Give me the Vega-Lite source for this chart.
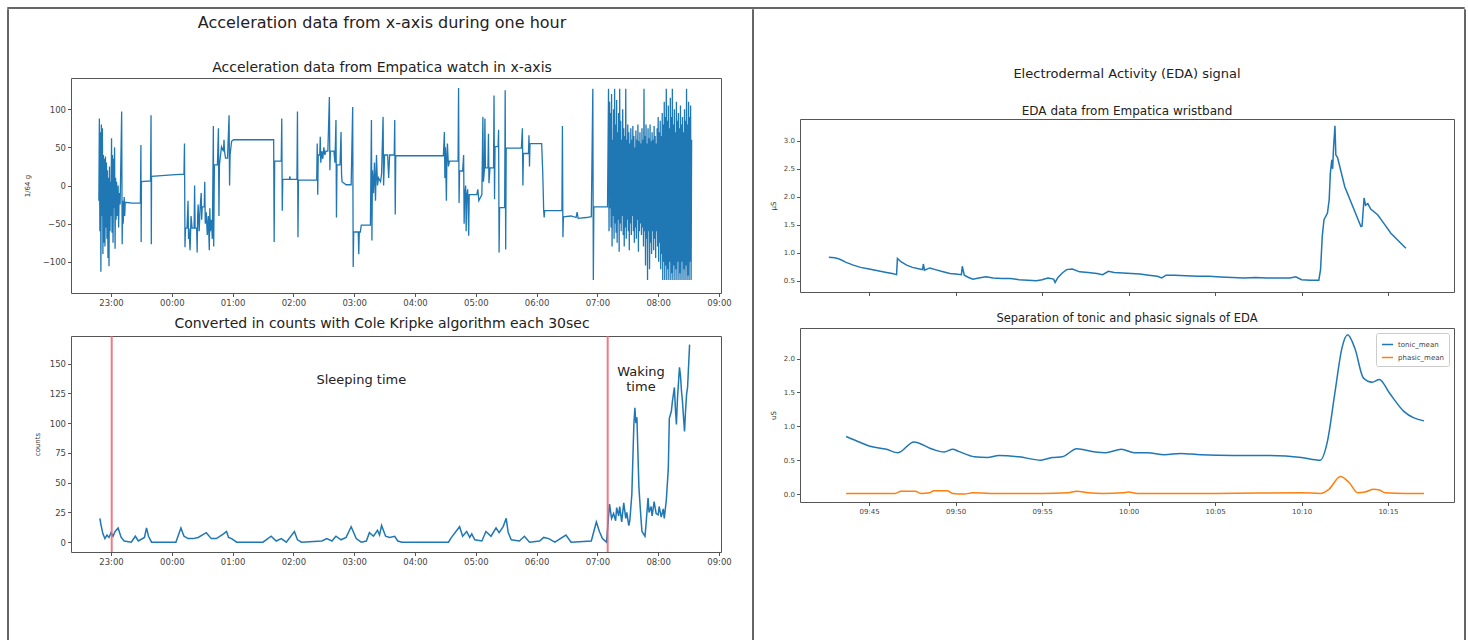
{
  "$schema": "https://vega.github.io/schema/vega-lite/v6.json",
  "padding": {"left": 7, "top": 7, "right": 0, "bottom": 0},
  "background": "white",
  "config": {
    "font": "DejaVu Sans",
    "view": {"stroke": "#555", "strokeWidth": 1},
    "axis": {"grid": false, "domain": false, "tickColor": "#555", "labelColor": "#444", "titleColor": "#333", "titleFontWeight": "normal", "tickSize": 3.5, "labelPadding": 2},
    "title": {"fontWeight": "normal", "color": "#222", "subtitleColor": "#222", "subtitleFont": "DejaVu Sans"}
  },
  "datasets": {
    "acc": [
      {"t": "1 22:48:00", "v": -20}, {"t": "1 22:48:30", "v": 88}, {"t": "1 22:49:00", "v": -60}, {"t": "1 22:49:30", "v": 70},
      {"t": "1 22:50:00", "v": -113}, {"t": "1 22:50:30", "v": 80}, {"t": "1 22:51:00", "v": -40}, {"t": "1 22:51:30", "v": 75},
      {"t": "1 22:52:00", "v": -90}, {"t": "1 22:52:30", "v": 40}, {"t": "1 22:53:00", "v": -75}, {"t": "1 22:53:30", "v": 35},
      {"t": "1 22:54:00", "v": -80}, {"t": "1 22:54:30", "v": 38}, {"t": "1 22:55:00", "v": -55}, {"t": "1 22:55:30", "v": 30},
      {"t": "1 22:56:00", "v": -70}, {"t": "1 22:56:30", "v": 20}, {"t": "1 22:57:00", "v": -95}, {"t": "1 22:57:30", "v": 10},
      {"t": "1 22:58:00", "v": -106}, {"t": "1 22:58:30", "v": 25}, {"t": "1 22:59:00", "v": -60}, {"t": "1 22:59:30", "v": 5},
      {"t": "1 23:00:00", "v": -40}, {"t": "1 23:00:30", "v": 62}, {"t": "1 23:01:00", "v": -62}, {"t": "1 23:01:30", "v": 40},
      {"t": "1 23:02:00", "v": -75}, {"t": "1 23:02:30", "v": 35}, {"t": "1 23:03:00", "v": -30}, {"t": "1 23:03:30", "v": 50},
      {"t": "1 23:04:00", "v": -83}, {"t": "1 23:04:30", "v": 10}, {"t": "1 23:05:00", "v": -45}, {"t": "1 23:05:30", "v": 5},
      {"t": "1 23:06:00", "v": -40}, {"t": "1 23:07:00", "v": 0}, {"t": "1 23:07:30", "v": -55}, {"t": "1 23:08:00", "v": -10},
      {"t": "1 23:09:00", "v": -25}, {"t": "1 23:10:30", "v": 97}, {"t": "1 23:11:00", "v": -77}, {"t": "1 23:11:30", "v": -20},
      {"t": "1 23:12:00", "v": -50}, {"t": "1 23:13:00", "v": -15}, {"t": "1 23:13:30", "v": -40}, {"t": "1 23:14:00", "v": -22},
      {"t": "1 23:21:00", "v": -23}, {"t": "1 23:29:00", "v": -23}, {"t": "1 23:29:30", "v": 53}, {"t": "1 23:29:45", "v": -74},
      {"t": "1 23:30:00", "v": 5}, {"t": "1 23:39:00", "v": 6}, {"t": "1 23:39:30", "v": 92}, {"t": "1 23:39:45", "v": -77},
      {"t": "1 23:40:00", "v": 12}, {"t": "1 23:50:00", "v": 13}, {"t": "2 00:00:00", "v": 14}, {"t": "2 00:12:00", "v": 15},
      {"t": "2 00:12:30", "v": 55}, {"t": "2 00:13:00", "v": -81}, {"t": "2 00:13:30", "v": -56}, {"t": "2 00:15:00", "v": -56},
      {"t": "2 00:16:00", "v": -20}, {"t": "2 00:16:30", "v": -70}, {"t": "2 00:17:00", "v": -56}, {"t": "2 00:18:00", "v": -85},
      {"t": "2 00:19:00", "v": -40}, {"t": "2 00:20:00", "v": -56}, {"t": "2 00:22:00", "v": -56}, {"t": "2 00:22:30", "v": 0},
      {"t": "2 00:23:00", "v": -56}, {"t": "2 00:24:30", "v": -56}, {"t": "2 00:25:00", "v": -88}, {"t": "2 00:25:30", "v": -40},
      {"t": "2 00:26:00", "v": -25}, {"t": "2 00:27:00", "v": -60}, {"t": "2 00:28:00", "v": -28}, {"t": "2 00:29:00", "v": -10},
      {"t": "2 00:29:30", "v": -45}, {"t": "2 00:30:00", "v": -28}, {"t": "2 00:32:00", "v": -28}, {"t": "2 00:32:30", "v": 5},
      {"t": "2 00:33:00", "v": -50}, {"t": "2 00:34:00", "v": -35}, {"t": "2 00:35:00", "v": -65}, {"t": "2 00:36:00", "v": -40},
      {"t": "2 00:37:00", "v": -85}, {"t": "2 00:37:30", "v": -30}, {"t": "2 00:38:00", "v": -60}, {"t": "2 00:39:00", "v": -45},
      {"t": "2 00:40:00", "v": -70}, {"t": "2 00:41:00", "v": 78}, {"t": "2 00:41:20", "v": -80}, {"t": "2 00:42:00", "v": 27},
      {"t": "2 00:45:00", "v": 27}, {"t": "2 00:46:00", "v": 75}, {"t": "2 00:46:30", "v": -40}, {"t": "2 00:47:00", "v": 27},
      {"t": "2 00:49:00", "v": 51}, {"t": "2 00:51:00", "v": 45}, {"t": "2 00:51:30", "v": 60}, {"t": "2 00:52:00", "v": 45},
      {"t": "2 00:53:00", "v": 36}, {"t": "2 00:55:00", "v": 36}, {"t": "2 00:56:30", "v": 92}, {"t": "2 00:57:00", "v": 0},
      {"t": "2 00:57:30", "v": 40}, {"t": "2 00:59:00", "v": 58}, {"t": "2 01:01:00", "v": 60}, {"t": "2 01:40:30", "v": 60},
      {"t": "2 01:41:00", "v": -74}, {"t": "2 01:41:30", "v": 32}, {"t": "2 01:48:00", "v": 32}, {"t": "2 01:48:30", "v": 88},
      {"t": "2 01:49:00", "v": -33}, {"t": "2 01:49:30", "v": 8}, {"t": "2 01:56:00", "v": 8}, {"t": "2 01:56:30", "v": 12},
      {"t": "2 01:57:00", "v": 8}, {"t": "2 02:03:30", "v": 8}, {"t": "2 02:04:00", "v": 97}, {"t": "2 02:04:30", "v": -68},
      {"t": "2 02:05:00", "v": 7}, {"t": "2 02:23:00", "v": 7}, {"t": "2 02:23:30", "v": 55}, {"t": "2 02:24:00", "v": -12},
      {"t": "2 02:24:30", "v": 40}, {"t": "2 02:26:00", "v": 40}, {"t": "2 02:26:30", "v": 64}, {"t": "2 02:27:00", "v": 30},
      {"t": "2 02:28:00", "v": 45}, {"t": "2 02:29:00", "v": 35}, {"t": "2 02:30:00", "v": 50}, {"t": "2 02:31:00", "v": 40},
      {"t": "2 02:32:00", "v": 45}, {"t": "2 02:34:00", "v": 45}, {"t": "2 02:35:30", "v": 116}, {"t": "2 02:36:00", "v": 20},
      {"t": "2 02:36:30", "v": 45}, {"t": "2 02:40:00", "v": 45}, {"t": "2 02:41:00", "v": 30}, {"t": "2 02:42:00", "v": 86},
      {"t": "2 02:42:30", "v": -42}, {"t": "2 02:43:00", "v": 27}, {"t": "2 02:46:00", "v": 27}, {"t": "2 02:47:00", "v": 70},
      {"t": "2 02:47:30", "v": 15}, {"t": "2 02:48:00", "v": 5}, {"t": "2 02:52:00", "v": 1}, {"t": "2 02:57:00", "v": 1},
      {"t": "2 02:58:30", "v": 103}, {"t": "2 02:59:00", "v": -107}, {"t": "2 02:59:30", "v": -61}, {"t": "2 03:04:00", "v": -61},
      {"t": "2 03:04:30", "v": -90}, {"t": "2 03:05:00", "v": -61}, {"t": "2 03:06:00", "v": -61}, {"t": "2 03:07:00", "v": -52},
      {"t": "2 03:16:00", "v": -52}, {"t": "2 03:17:00", "v": 86}, {"t": "2 03:17:30", "v": -72}, {"t": "2 03:18:00", "v": 20},
      {"t": "2 03:19:00", "v": -10}, {"t": "2 03:20:00", "v": 30}, {"t": "2 03:21:00", "v": -20}, {"t": "2 03:22:00", "v": 40},
      {"t": "2 03:23:00", "v": 0}, {"t": "2 03:24:00", "v": 10}, {"t": "2 03:26:00", "v": 5}, {"t": "2 03:27:00", "v": 15},
      {"t": "2 03:28:30", "v": 90}, {"t": "2 03:29:00", "v": 0}, {"t": "2 03:30:00", "v": 40}, {"t": "2 03:33:00", "v": 40},
      {"t": "2 03:34:00", "v": 10}, {"t": "2 03:35:00", "v": 40}, {"t": "2 03:39:30", "v": 40}, {"t": "2 03:40:00", "v": 86},
      {"t": "2 03:40:30", "v": -38}, {"t": "2 03:41:00", "v": 39}, {"t": "2 04:28:00", "v": 39}, {"t": "2 04:29:00", "v": 70},
      {"t": "2 04:29:30", "v": 10}, {"t": "2 04:30:00", "v": 50}, {"t": "2 04:31:00", "v": -20}, {"t": "2 04:31:30", "v": 40},
      {"t": "2 04:32:00", "v": 55}, {"t": "2 04:33:00", "v": 25}, {"t": "2 04:34:00", "v": 32}, {"t": "2 04:42:30", "v": 32},
      {"t": "2 04:43:00", "v": 128}, {"t": "2 04:43:30", "v": -23}, {"t": "2 04:44:00", "v": 19}, {"t": "2 04:47:00", "v": 19},
      {"t": "2 04:48:00", "v": 40}, {"t": "2 04:48:30", "v": -50}, {"t": "2 04:49:00", "v": -14}, {"t": "2 04:50:00", "v": 0},
      {"t": "2 04:50:30", "v": -60}, {"t": "2 04:51:00", "v": -14}, {"t": "2 04:52:00", "v": -5}, {"t": "2 04:53:00", "v": -66},
      {"t": "2 04:53:30", "v": -12}, {"t": "2 05:01:00", "v": -12}, {"t": "2 05:02:00", "v": -5}, {"t": "2 05:03:00", "v": -20},
      {"t": "2 05:06:00", "v": -12}, {"t": "2 05:07:00", "v": 90}, {"t": "2 05:07:30", "v": 5}, {"t": "2 05:08:30", "v": 20},
      {"t": "2 05:09:00", "v": 88}, {"t": "2 05:09:30", "v": 23}, {"t": "2 05:12:00", "v": 23}, {"t": "2 05:12:30", "v": 68},
      {"t": "2 05:13:00", "v": 3}, {"t": "2 05:14:00", "v": 23}, {"t": "2 05:17:30", "v": 23}, {"t": "2 05:18:00", "v": 118},
      {"t": "2 05:18:30", "v": -18}, {"t": "2 05:19:00", "v": 51}, {"t": "2 05:22:00", "v": 51}, {"t": "2 05:22:30", "v": 73},
      {"t": "2 05:23:00", "v": -88}, {"t": "2 05:23:30", "v": -29}, {"t": "2 05:28:30", "v": -29}, {"t": "2 05:29:00", "v": 125},
      {"t": "2 05:29:30", "v": -84}, {"t": "2 05:30:00", "v": 49}, {"t": "2 05:45:00", "v": 49}, {"t": "2 05:46:00", "v": 75},
      {"t": "2 05:46:30", "v": 0}, {"t": "2 05:47:00", "v": 42}, {"t": "2 05:52:00", "v": 42}, {"t": "2 05:52:30", "v": 66},
      {"t": "2 05:53:00", "v": 25}, {"t": "2 05:53:30", "v": 55}, {"t": "2 06:05:00", "v": 55}, {"t": "2 06:06:00", "v": 20},
      {"t": "2 06:06:30", "v": -5}, {"t": "2 06:07:00", "v": -33}, {"t": "2 06:07:30", "v": -42}, {"t": "2 06:08:00", "v": -33},
      {"t": "2 06:25:00", "v": -33}, {"t": "2 06:25:30", "v": 78}, {"t": "2 06:26:00", "v": -68}, {"t": "2 06:26:30", "v": -41},
      {"t": "2 06:34:00", "v": -40}, {"t": "2 06:39:00", "v": -42}, {"t": "2 06:40:00", "v": -35}, {"t": "2 06:41:00", "v": -43},
      {"t": "2 06:49:00", "v": -42}, {"t": "2 06:54:00", "v": -41}, {"t": "2 06:55:30", "v": 127}, {"t": "2 06:56:00", "v": -124},
      {"t": "2 06:56:30", "v": -28}, {"t": "2 07:10:00", "v": -28},
      {"t": "2 07:11:00", "v": 127}, {"t": "2 07:11:30", "v": -60}, {"t": "2 07:12:00", "v": 110}, {"t": "2 07:12:30", "v": -30},
      {"t": "2 07:13:00", "v": 95}, {"t": "2 07:13:30", "v": -55}, {"t": "2 07:14:00", "v": 120}, {"t": "2 07:14:30", "v": -80},
      {"t": "2 07:15:00", "v": 60}, {"t": "2 07:15:30", "v": -40}, {"t": "2 07:16:00", "v": 100}, {"t": "2 07:16:30", "v": -70},
      {"t": "2 07:17:00", "v": 127}, {"t": "2 07:17:30", "v": -50}, {"t": "2 07:18:00", "v": 80}, {"t": "2 07:18:30", "v": -62},
      {"t": "2 07:19:00", "v": 112}, {"t": "2 07:19:30", "v": -75}, {"t": "2 07:20:00", "v": 70}, {"t": "2 07:20:30", "v": -45},
      {"t": "2 07:21:00", "v": 95}, {"t": "2 07:21:30", "v": -87}, {"t": "2 07:22:00", "v": 127}, {"t": "2 07:22:30", "v": -50},
      {"t": "2 07:23:00", "v": 85}, {"t": "2 07:23:30", "v": -60}, {"t": "2 07:24:00", "v": 60}, {"t": "2 07:24:30", "v": -40},
      {"t": "2 07:25:00", "v": 100}, {"t": "2 07:25:30", "v": -65}, {"t": "2 07:26:00", "v": 75}, {"t": "2 07:26:30", "v": -80},
      {"t": "2 07:27:00", "v": 65}, {"t": "2 07:27:30", "v": -55}, {"t": "2 07:28:00", "v": 127}, {"t": "2 07:28:30", "v": -70},
      {"t": "2 07:29:00", "v": 60}, {"t": "2 07:29:30", "v": -45}, {"t": "2 07:30:00", "v": 80}, {"t": "2 07:30:30", "v": -60},
      {"t": "2 07:31:00", "v": 70}, {"t": "2 07:31:30", "v": -85}, {"t": "2 07:32:00", "v": 55}, {"t": "2 07:32:30", "v": -50},
      {"t": "2 07:33:00", "v": 75}, {"t": "2 07:33:30", "v": -65}, {"t": "2 07:34:00", "v": 60}, {"t": "2 07:34:30", "v": -40},
      {"t": "2 07:35:00", "v": 78}, {"t": "2 07:35:30", "v": -60}, {"t": "2 07:36:00", "v": 65}, {"t": "2 07:36:30", "v": -75},
      {"t": "2 07:37:00", "v": 50}, {"t": "2 07:37:30", "v": -55}, {"t": "2 07:38:00", "v": 72}, {"t": "2 07:38:30", "v": -70},
      {"t": "2 07:39:00", "v": 60}, {"t": "2 07:39:30", "v": -45}, {"t": "2 07:40:00", "v": 80}, {"t": "2 07:40:30", "v": -87},
      {"t": "2 07:41:00", "v": 58}, {"t": "2 07:41:30", "v": -60}, {"t": "2 07:42:00", "v": 70}, {"t": "2 07:42:30", "v": -50},
      {"t": "2 07:43:00", "v": 55}, {"t": "2 07:43:30", "v": -65}, {"t": "2 07:44:00", "v": 75}, {"t": "2 07:44:30", "v": -55},
      {"t": "2 07:45:00", "v": 60}, {"t": "2 07:45:30", "v": -80}, {"t": "2 07:46:00", "v": 127}, {"t": "2 07:46:30", "v": -60},
      {"t": "2 07:47:00", "v": 65}, {"t": "2 07:47:30", "v": -105}, {"t": "2 07:48:00", "v": 80}, {"t": "2 07:48:30", "v": -70},
      {"t": "2 07:49:00", "v": 55}, {"t": "2 07:49:30", "v": -124}, {"t": "2 07:50:00", "v": 75}, {"t": "2 07:50:30", "v": -60},
      {"t": "2 07:51:00", "v": 62}, {"t": "2 07:51:30", "v": -110}, {"t": "2 07:52:00", "v": 80}, {"t": "2 07:52:30", "v": -75},
      {"t": "2 07:53:00", "v": 58}, {"t": "2 07:53:30", "v": -90}, {"t": "2 07:54:00", "v": 70}, {"t": "2 07:54:30", "v": -60},
      {"t": "2 07:55:00", "v": 60}, {"t": "2 07:55:30", "v": -85}, {"t": "2 07:56:00", "v": 78}, {"t": "2 07:56:30", "v": -70},
      {"t": "2 07:57:00", "v": 65}, {"t": "2 07:57:30", "v": -95}, {"t": "2 07:58:00", "v": 55}, {"t": "2 07:58:30", "v": -60},
      {"t": "2 07:59:00", "v": 75}, {"t": "2 07:59:30", "v": -80}, {"t": "2 08:00:00", "v": 90}, {"t": "2 08:00:30", "v": -100},
      {"t": "2 08:01:00", "v": 70}, {"t": "2 08:01:30", "v": -75}, {"t": "2 08:02:00", "v": 85}, {"t": "2 08:02:30", "v": -110},
      {"t": "2 08:03:00", "v": 65}, {"t": "2 08:03:30", "v": -90}, {"t": "2 08:04:00", "v": 95}, {"t": "2 08:04:30", "v": -124},
      {"t": "2 08:05:00", "v": 80}, {"t": "2 08:05:30", "v": -100}, {"t": "2 08:06:00", "v": 110}, {"t": "2 08:06:30", "v": -124},
      {"t": "2 08:07:00", "v": 90}, {"t": "2 08:07:30", "v": -105}, {"t": "2 08:08:00", "v": 127}, {"t": "2 08:08:30", "v": -124},
      {"t": "2 08:09:00", "v": 85}, {"t": "2 08:09:30", "v": -110}, {"t": "2 08:10:00", "v": 105}, {"t": "2 08:10:30", "v": -124},
      {"t": "2 08:11:00", "v": 75}, {"t": "2 08:11:30", "v": -100}, {"t": "2 08:12:00", "v": 115}, {"t": "2 08:12:30", "v": -124},
      {"t": "2 08:13:00", "v": 90}, {"t": "2 08:13:30", "v": -115}, {"t": "2 08:14:00", "v": 127}, {"t": "2 08:14:30", "v": -124},
      {"t": "2 08:15:00", "v": 80}, {"t": "2 08:15:30", "v": -105}, {"t": "2 08:16:00", "v": 100}, {"t": "2 08:16:30", "v": -124},
      {"t": "2 08:17:00", "v": 70}, {"t": "2 08:17:30", "v": -110}, {"t": "2 08:18:00", "v": 110}, {"t": "2 08:18:30", "v": -124},
      {"t": "2 08:19:00", "v": 85}, {"t": "2 08:19:30", "v": -100}, {"t": "2 08:20:00", "v": 95}, {"t": "2 08:20:30", "v": -124},
      {"t": "2 08:21:00", "v": 75}, {"t": "2 08:21:30", "v": -115}, {"t": "2 08:22:00", "v": 105}, {"t": "2 08:22:30", "v": -124},
      {"t": "2 08:23:00", "v": 80}, {"t": "2 08:23:30", "v": -100}, {"t": "2 08:24:00", "v": 90}, {"t": "2 08:24:30", "v": -124},
      {"t": "2 08:25:00", "v": 70}, {"t": "2 08:25:30", "v": -110}, {"t": "2 08:26:00", "v": 100}, {"t": "2 08:26:30", "v": -124},
      {"t": "2 08:27:00", "v": 85}, {"t": "2 08:27:30", "v": -105}, {"t": "2 08:28:00", "v": 127}, {"t": "2 08:28:30", "v": -124},
      {"t": "2 08:29:00", "v": 80}, {"t": "2 08:29:30", "v": -118}, {"t": "2 08:30:00", "v": 110}, {"t": "2 08:30:30", "v": -124},
      {"t": "2 08:31:00", "v": 90}, {"t": "2 08:31:30", "v": -100}, {"t": "2 08:32:00", "v": 105}, {"t": "2 08:32:30", "v": -124},
      {"t": "2 08:33:00", "v": 60}
    ],
    "counts": [
      {"t": "1 22:49:00", "v": 20}, {"t": "1 22:50:00", "v": 15}, {"t": "1 22:52:00", "v": 7}, {"t": "1 22:54:00", "v": 3},
      {"t": "1 22:56:00", "v": 6}, {"t": "1 22:58:00", "v": 4}, {"t": "1 23:00:00", "v": 8}, {"t": "1 23:02:00", "v": 5},
      {"t": "1 23:04:00", "v": 9}, {"t": "1 23:07:00", "v": 12}, {"t": "1 23:10:00", "v": 4}, {"t": "1 23:13:00", "v": 1},
      {"t": "1 23:20:00", "v": 0}, {"t": "1 23:24:00", "v": 5}, {"t": "1 23:27:00", "v": 1}, {"t": "1 23:33:00", "v": 4},
      {"t": "1 23:35:00", "v": 12}, {"t": "1 23:37:00", "v": 5}, {"t": "1 23:40:00", "v": 0}, {"t": "2 00:04:00", "v": 0},
      {"t": "2 00:09:00", "v": 12}, {"t": "2 00:12:00", "v": 5}, {"t": "2 00:16:00", "v": 3}, {"t": "2 00:21:00", "v": 3},
      {"t": "2 00:26:00", "v": 4}, {"t": "2 00:34:00", "v": 8}, {"t": "2 00:39:00", "v": 3}, {"t": "2 00:44:00", "v": 3},
      {"t": "2 00:51:00", "v": 7}, {"t": "2 00:54:00", "v": 9}, {"t": "2 00:56:00", "v": 4}, {"t": "2 00:59:00", "v": 3},
      {"t": "2 01:04:00", "v": 0}, {"t": "2 01:30:00", "v": 0}, {"t": "2 01:38:00", "v": 5}, {"t": "2 01:43:00", "v": 1},
      {"t": "2 01:48:00", "v": 3}, {"t": "2 01:53:00", "v": 0}, {"t": "2 02:01:00", "v": 9}, {"t": "2 02:04:00", "v": 2},
      {"t": "2 02:08:00", "v": 0}, {"t": "2 02:28:00", "v": 1}, {"t": "2 02:33:00", "v": 3}, {"t": "2 02:38:00", "v": 1},
      {"t": "2 02:42:00", "v": 5}, {"t": "2 02:47:00", "v": 2}, {"t": "2 02:52:00", "v": 4}, {"t": "2 02:57:00", "v": 13},
      {"t": "2 03:02:00", "v": 3}, {"t": "2 03:07:00", "v": 0}, {"t": "2 03:12:00", "v": 1}, {"t": "2 03:15:00", "v": 8},
      {"t": "2 03:19:00", "v": 5}, {"t": "2 03:23:00", "v": 10}, {"t": "2 03:25:00", "v": 6}, {"t": "2 03:27:00", "v": 14},
      {"t": "2 03:31:00", "v": 5}, {"t": "2 03:35:00", "v": 4}, {"t": "2 03:40:00", "v": 5}, {"t": "2 03:43:00", "v": 1},
      {"t": "2 03:47:00", "v": 0}, {"t": "2 04:33:00", "v": 0}, {"t": "2 04:36:00", "v": 4}, {"t": "2 04:44:00", "v": 13},
      {"t": "2 04:47:00", "v": 5}, {"t": "2 04:51:00", "v": 9}, {"t": "2 04:54:00", "v": 4}, {"t": "2 04:56:00", "v": 7},
      {"t": "2 04:59:00", "v": 2}, {"t": "2 05:06:00", "v": 1}, {"t": "2 05:10:00", "v": 9}, {"t": "2 05:15:00", "v": 5},
      {"t": "2 05:20:00", "v": 12}, {"t": "2 05:23:00", "v": 8}, {"t": "2 05:27:00", "v": 13}, {"t": "2 05:30:00", "v": 20},
      {"t": "2 05:32:00", "v": 8}, {"t": "2 05:35:00", "v": 2}, {"t": "2 05:43:00", "v": 1}, {"t": "2 05:48:00", "v": 5},
      {"t": "2 05:53:00", "v": 0}, {"t": "2 06:03:00", "v": 1}, {"t": "2 06:07:00", "v": 4}, {"t": "2 06:12:00", "v": 3},
      {"t": "2 06:18:00", "v": 0}, {"t": "2 06:29:00", "v": 6}, {"t": "2 06:34:00", "v": 0}, {"t": "2 06:54:00", "v": 1},
      {"t": "2 06:59:00", "v": 17}, {"t": "2 07:02:00", "v": 9}, {"t": "2 07:05:00", "v": 3}, {"t": "2 07:09:00", "v": 0},
      {"t": "2 07:12:00", "v": 32}, {"t": "2 07:14:00", "v": 20}, {"t": "2 07:16:00", "v": 24}, {"t": "2 07:18:00", "v": 18},
      {"t": "2 07:19:00", "v": 29}, {"t": "2 07:21:00", "v": 22}, {"t": "2 07:22:00", "v": 30}, {"t": "2 07:24:00", "v": 17},
      {"t": "2 07:26:00", "v": 33}, {"t": "2 07:28:00", "v": 20}, {"t": "2 07:29:00", "v": 25}, {"t": "2 07:31:00", "v": 14},
      {"t": "2 07:32:00", "v": 18}, {"t": "2 07:34:00", "v": 40}, {"t": "2 07:36:00", "v": 99}, {"t": "2 07:37:00", "v": 113},
      {"t": "2 07:38:00", "v": 100}, {"t": "2 07:39:00", "v": 105}, {"t": "2 07:41:00", "v": 46}, {"t": "2 07:43:00", "v": 20},
      {"t": "2 07:44:00", "v": 9}, {"t": "2 07:47:00", "v": 5}, {"t": "2 07:48:00", "v": 15}, {"t": "2 07:50:00", "v": 37},
      {"t": "2 07:51:00", "v": 25}, {"t": "2 07:53:00", "v": 30}, {"t": "2 07:54:00", "v": 22}, {"t": "2 07:56:00", "v": 34},
      {"t": "2 07:58:00", "v": 24}, {"t": "2 08:00:00", "v": 23}, {"t": "2 08:01:00", "v": 30}, {"t": "2 08:03:00", "v": 21},
      {"t": "2 08:05:00", "v": 28}, {"t": "2 08:06:00", "v": 20}, {"t": "2 08:08:00", "v": 35}, {"t": "2 08:10:00", "v": 62},
      {"t": "2 08:11:00", "v": 104}, {"t": "2 08:13:00", "v": 110}, {"t": "2 08:14:00", "v": 118}, {"t": "2 08:16:00", "v": 130},
      {"t": "2 08:17:00", "v": 112}, {"t": "2 08:18:00", "v": 99}, {"t": "2 08:19:00", "v": 120}, {"t": "2 08:21:00", "v": 147},
      {"t": "2 08:22:00", "v": 140}, {"t": "2 08:23:00", "v": 127}, {"t": "2 08:24:00", "v": 118}, {"t": "2 08:25:00", "v": 105},
      {"t": "2 08:26:00", "v": 93}, {"t": "2 08:27:00", "v": 110}, {"t": "2 08:28:00", "v": 124}, {"t": "2 08:29:00", "v": 130},
      {"t": "2 08:31:00", "v": 166}
    ],
    "phases": [{"t": "1 23:00:40"}, {"t": "2 07:10:10"}],
    "notes": [
      {"t": "2 03:07:00", "v": 136, "label": "Sleeping time"},
      {"t": "2 07:43:00", "v": 143, "label": "Waking\ntime"}
    ],
    "eda": [
      {"t": "1 09:42:40", "v": 0.92}, {"t": "1 09:43:00", "v": 0.91}, {"t": "1 09:43:10", "v": 0.9}, {"t": "1 09:43:20", "v": 0.88},
      {"t": "1 09:43:40", "v": 0.83}, {"t": "1 09:44:05", "v": 0.78}, {"t": "1 09:44:30", "v": 0.74}, {"t": "1 09:45:00", "v": 0.71},
      {"t": "1 09:45:30", "v": 0.68}, {"t": "1 09:46:00", "v": 0.65}, {"t": "1 09:46:20", "v": 0.63}, {"t": "1 09:46:35", "v": 0.61},
      {"t": "1 09:46:38", "v": 0.9}, {"t": "1 09:46:50", "v": 0.84}, {"t": "1 09:47:10", "v": 0.78}, {"t": "1 09:47:30", "v": 0.74},
      {"t": "1 09:47:55", "v": 0.71}, {"t": "1 09:48:05", "v": 0.7}, {"t": "1 09:48:08", "v": 0.8}, {"t": "1 09:48:12", "v": 0.69},
      {"t": "1 09:48:30", "v": 0.73}, {"t": "1 09:48:50", "v": 0.7}, {"t": "1 09:49:10", "v": 0.67}, {"t": "1 09:49:40", "v": 0.63},
      {"t": "1 09:50:00", "v": 0.62}, {"t": "1 09:50:20", "v": 0.61}, {"t": "1 09:50:23", "v": 0.76}, {"t": "1 09:50:30", "v": 0.6},
      {"t": "1 09:50:45", "v": 0.56}, {"t": "1 09:51:00", "v": 0.53}, {"t": "1 09:51:20", "v": 0.55}, {"t": "1 09:51:45", "v": 0.57},
      {"t": "1 09:52:10", "v": 0.55}, {"t": "1 09:52:40", "v": 0.54}, {"t": "1 09:53:10", "v": 0.54}, {"t": "1 09:53:40", "v": 0.52},
      {"t": "1 09:54:10", "v": 0.51}, {"t": "1 09:54:40", "v": 0.5}, {"t": "1 09:55:00", "v": 0.52}, {"t": "1 09:55:20", "v": 0.55},
      {"t": "1 09:55:40", "v": 0.53}, {"t": "1 09:55:45", "v": 0.47}, {"t": "1 09:55:55", "v": 0.56}, {"t": "1 09:56:10", "v": 0.64},
      {"t": "1 09:56:25", "v": 0.7}, {"t": "1 09:56:45", "v": 0.71}, {"t": "1 09:57:10", "v": 0.66}, {"t": "1 09:57:40", "v": 0.65},
      {"t": "1 09:58:10", "v": 0.63}, {"t": "1 09:58:30", "v": 0.61}, {"t": "1 09:58:50", "v": 0.67}, {"t": "1 09:59:10", "v": 0.65},
      {"t": "1 09:59:40", "v": 0.64}, {"t": "1 10:00:10", "v": 0.63}, {"t": "1 10:00:40", "v": 0.62}, {"t": "1 10:01:10", "v": 0.6},
      {"t": "1 10:01:40", "v": 0.58}, {"t": "1 10:01:55", "v": 0.55}, {"t": "1 10:02:10", "v": 0.6}, {"t": "1 10:02:40", "v": 0.6},
      {"t": "1 10:03:20", "v": 0.59}, {"t": "1 10:04:00", "v": 0.58}, {"t": "1 10:04:40", "v": 0.58}, {"t": "1 10:05:20", "v": 0.57},
      {"t": "1 10:06:00", "v": 0.56}, {"t": "1 10:06:40", "v": 0.55}, {"t": "1 10:07:20", "v": 0.56}, {"t": "1 10:08:00", "v": 0.55},
      {"t": "1 10:08:40", "v": 0.55}, {"t": "1 10:09:20", "v": 0.55}, {"t": "1 10:09:40", "v": 0.57}, {"t": "1 10:10:00", "v": 0.52},
      {"t": "1 10:10:30", "v": 0.51}, {"t": "1 10:11:00", "v": 0.51}, {"t": "1 10:11:06", "v": 0.7}, {"t": "1 10:11:12", "v": 1.3},
      {"t": "1 10:11:18", "v": 1.59}, {"t": "1 10:11:30", "v": 1.71}, {"t": "1 10:11:36", "v": 1.95}, {"t": "1 10:11:40", "v": 2.42},
      {"t": "1 10:11:45", "v": 2.66}, {"t": "1 10:11:48", "v": 2.5}, {"t": "1 10:11:51", "v": 2.87}, {"t": "1 10:11:56", "v": 3.27},
      {"t": "1 10:11:59", "v": 2.75}, {"t": "1 10:12:05", "v": 2.7}, {"t": "1 10:12:30", "v": 2.18}, {"t": "1 10:13:00", "v": 1.8},
      {"t": "1 10:13:26", "v": 1.47}, {"t": "1 10:13:30", "v": 1.48}, {"t": "1 10:13:37", "v": 1.98}, {"t": "1 10:13:42", "v": 1.85},
      {"t": "1 10:13:50", "v": 1.88}, {"t": "1 10:14:00", "v": 1.78}, {"t": "1 10:14:24", "v": 1.68}, {"t": "1 10:14:45", "v": 1.53},
      {"t": "1 10:15:10", "v": 1.35}, {"t": "1 10:15:35", "v": 1.22}, {"t": "1 10:16:02", "v": 1.08}
    ],
    "separation": [
      {"t": "1 09:43:40", "s": "tonic_mean", "v": 0.85}, {"t": "1 09:44:30", "s": "tonic_mean", "v": 0.76},
      {"t": "1 09:45:00", "s": "tonic_mean", "v": 0.71}, {"t": "1 09:46:00", "s": "tonic_mean", "v": 0.66},
      {"t": "1 09:46:40", "s": "tonic_mean", "v": 0.61}, {"t": "1 09:47:35", "s": "tonic_mean", "v": 0.77},
      {"t": "1 09:48:40", "s": "tonic_mean", "v": 0.66}, {"t": "1 09:49:20", "s": "tonic_mean", "v": 0.62},
      {"t": "1 09:49:50", "s": "tonic_mean", "v": 0.66}, {"t": "1 09:50:10", "s": "tonic_mean", "v": 0.63},
      {"t": "1 09:51:05", "s": "tonic_mean", "v": 0.55}, {"t": "1 09:51:50", "s": "tonic_mean", "v": 0.54},
      {"t": "1 09:52:30", "s": "tonic_mean", "v": 0.57}, {"t": "1 09:53:40", "s": "tonic_mean", "v": 0.55},
      {"t": "1 09:54:55", "s": "tonic_mean", "v": 0.5}, {"t": "1 09:55:35", "s": "tonic_mean", "v": 0.54},
      {"t": "1 09:56:10", "s": "tonic_mean", "v": 0.55}, {"t": "1 09:57:00", "s": "tonic_mean", "v": 0.67},
      {"t": "1 09:58:05", "s": "tonic_mean", "v": 0.62}, {"t": "1 09:58:40", "s": "tonic_mean", "v": 0.61},
      {"t": "1 09:59:35", "s": "tonic_mean", "v": 0.66}, {"t": "1 10:00:20", "s": "tonic_mean", "v": 0.61},
      {"t": "1 10:01:05", "s": "tonic_mean", "v": 0.61}, {"t": "1 10:02:05", "s": "tonic_mean", "v": 0.58},
      {"t": "1 10:03:00", "s": "tonic_mean", "v": 0.6}, {"t": "1 10:04:10", "s": "tonic_mean", "v": 0.58},
      {"t": "1 10:06:05", "s": "tonic_mean", "v": 0.57}, {"t": "1 10:08:00", "s": "tonic_mean", "v": 0.57},
      {"t": "1 10:10:00", "s": "tonic_mean", "v": 0.54}, {"t": "1 10:11:05", "s": "tonic_mean", "v": 0.5},
      {"t": "1 10:11:30", "s": "tonic_mean", "v": 0.78}, {"t": "1 10:11:55", "s": "tonic_mean", "v": 1.47},
      {"t": "1 10:12:20", "s": "tonic_mean", "v": 2.15}, {"t": "1 10:12:40", "s": "tonic_mean", "v": 2.35},
      {"t": "1 10:13:05", "s": "tonic_mean", "v": 2.15}, {"t": "1 10:13:35", "s": "tonic_mean", "v": 1.71},
      {"t": "1 10:14:05", "s": "tonic_mean", "v": 1.65}, {"t": "1 10:14:30", "s": "tonic_mean", "v": 1.69},
      {"t": "1 10:15:05", "s": "tonic_mean", "v": 1.49}, {"t": "1 10:15:55", "s": "tonic_mean", "v": 1.22},
      {"t": "1 10:17:05", "s": "tonic_mean", "v": 1.08},
      {"t": "1 09:43:40", "s": "phasic_mean", "v": 0.01}, {"t": "1 09:46:30", "s": "phasic_mean", "v": 0.01},
      {"t": "1 09:46:50", "s": "phasic_mean", "v": 0.04}, {"t": "1 09:47:40", "s": "phasic_mean", "v": 0.04},
      {"t": "1 09:48:00", "s": "phasic_mean", "v": 0.01}, {"t": "1 09:48:30", "s": "phasic_mean", "v": 0.02},
      {"t": "1 09:48:45", "s": "phasic_mean", "v": 0.05}, {"t": "1 09:49:30", "s": "phasic_mean", "v": 0.05},
      {"t": "1 09:49:50", "s": "phasic_mean", "v": 0.01}, {"t": "1 09:50:30", "s": "phasic_mean", "v": 0.0},
      {"t": "1 09:51:00", "s": "phasic_mean", "v": 0.02}, {"t": "1 09:52:00", "s": "phasic_mean", "v": 0.01},
      {"t": "1 09:55:00", "s": "phasic_mean", "v": 0.01}, {"t": "1 09:56:30", "s": "phasic_mean", "v": 0.02},
      {"t": "1 09:57:00", "s": "phasic_mean", "v": 0.04}, {"t": "1 09:57:40", "s": "phasic_mean", "v": 0.02},
      {"t": "1 09:58:30", "s": "phasic_mean", "v": 0.01}, {"t": "1 09:59:40", "s": "phasic_mean", "v": 0.02},
      {"t": "1 10:00:00", "s": "phasic_mean", "v": 0.03}, {"t": "1 10:00:30", "s": "phasic_mean", "v": 0.01},
      {"t": "1 10:05:00", "s": "phasic_mean", "v": 0.01}, {"t": "1 10:10:00", "s": "phasic_mean", "v": 0.02},
      {"t": "1 10:11:05", "s": "phasic_mean", "v": 0.01}, {"t": "1 10:11:35", "s": "phasic_mean", "v": 0.07},
      {"t": "1 10:12:15", "s": "phasic_mean", "v": 0.26}, {"t": "1 10:12:45", "s": "phasic_mean", "v": 0.17},
      {"t": "1 10:13:15", "s": "phasic_mean", "v": 0.02}, {"t": "1 10:13:40", "s": "phasic_mean", "v": 0.03},
      {"t": "1 10:14:10", "s": "phasic_mean", "v": 0.07}, {"t": "1 10:14:30", "s": "phasic_mean", "v": 0.06},
      {"t": "1 10:14:50", "s": "phasic_mean", "v": 0.02}, {"t": "1 10:16:00", "s": "phasic_mean", "v": 0.01},
      {"t": "1 10:17:05", "s": "phasic_mean", "v": 0.01}
    ],
    "blank": []
  },
  "spacing": 0,
  "resolve": {"legend": {"color": "independent"}},
  "vconcat": [
    {"width": 1456, "height": 0.01, "view": {"stroke": "#333", "strokeWidth": 1.5}, "data": {"name": "blank"}, "mark": "point"},
    {
      "spacing": 13,
      "resolve": {"legend": {"color": "independent"}},
      "hconcat": [
        {"width": 0.01, "height": 630, "view": {"stroke": "#333", "strokeWidth": 1.5}, "data": {"name": "blank"}, "mark": "point"},
        {
          "spacing": 20,
          "resolve": {"legend": {"color": "independent"}},
          "hconcat": [
            {
              "spacing": 3,
              "vconcat": [
                {"width": 650, "height": 0.01, "view": {"stroke": null}, "data": {"name": "blank"}, "mark": "point"},
                {
                  "spacing": 8,
                  "vconcat": [
                    {
                      "width": 650,
                      "height": 215,
                      "title": {"text": "Acceleration data from x-axis during one hour", "fontSize": 16, "subtitle": "Acceleration data from Empatica watch in x-axis", "subtitleFontSize": 14, "subtitlePadding": 30, "offset": 3, "dx": -14},
                      "data": {"name": "acc", "format": {"parse": {"t": "date:'%d %H:%M:%S'"}}},
                      "mark": {"type": "line", "color": "#1f77b4", "strokeWidth": 1.3},
                      "encoding": {
                        "x": {"field": "t", "type": "temporal",
                          "scale": {"domain": [{"year": 1900, "month": 1, "date": 1, "hours": 22, "minutes": 20, "seconds": 30}, {"year": 1900, "month": 1, "date": 2, "hours": 9, "minutes": 2}], "nice": false},
                          "axis": {"title": null, "format": "%H:%M", "labelFontSize": 8.5,
                            "values": [{"year": 1900, "month": 1, "date": 1, "hours": 23}, {"year": 1900, "month": 1, "date": 2, "hours": 0}, {"year": 1900, "month": 1, "date": 2, "hours": 1}, {"year": 1900, "month": 1, "date": 2, "hours": 2}, {"year": 1900, "month": 1, "date": 2, "hours": 3}, {"year": 1900, "month": 1, "date": 2, "hours": 4}, {"year": 1900, "month": 1, "date": 2, "hours": 5}, {"year": 1900, "month": 1, "date": 2, "hours": 6}, {"year": 1900, "month": 1, "date": 2, "hours": 7}, {"year": 1900, "month": 1, "date": 2, "hours": 8}, {"year": 1900, "month": 1, "date": 2, "hours": 9}]}},
                        "y": {"field": "v", "type": "quantitative",
                          "scale": {"domain": [-141, 141], "nice": false, "zero": false},
                          "axis": {"values": [-100, -50, 0, 50, 100], "title": "1/64 g", "titleFontSize": 7, "titlePadding": 12, "labelFontSize": 8.5}}
                      }
                    },
                    {
                      "width": 650,
                      "height": 216,
                      "title": {"text": "Converted in counts with Cole Kripke algorithm each 30sec", "fontSize": 14, "offset": 4, "dx": -14},
                      "layer": [
                        {
                          "data": {"name": "counts", "format": {"parse": {"t": "date:'%d %H:%M:%S'"}}},
                          "mark": {"type": "line", "color": "#1f77b4", "strokeWidth": 1.5},
                          "encoding": {
                            "x": {"field": "t", "type": "temporal",
                              "scale": {"domain": [{"year": 1900, "month": 1, "date": 1, "hours": 22, "minutes": 20, "seconds": 30}, {"year": 1900, "month": 1, "date": 2, "hours": 9, "minutes": 2}], "nice": false},
                              "axis": {"title": null, "format": "%H:%M", "labelFontSize": 8.5,
                                "values": [{"year": 1900, "month": 1, "date": 1, "hours": 23}, {"year": 1900, "month": 1, "date": 2, "hours": 0}, {"year": 1900, "month": 1, "date": 2, "hours": 1}, {"year": 1900, "month": 1, "date": 2, "hours": 2}, {"year": 1900, "month": 1, "date": 2, "hours": 3}, {"year": 1900, "month": 1, "date": 2, "hours": 4}, {"year": 1900, "month": 1, "date": 2, "hours": 5}, {"year": 1900, "month": 1, "date": 2, "hours": 6}, {"year": 1900, "month": 1, "date": 2, "hours": 7}, {"year": 1900, "month": 1, "date": 2, "hours": 8}, {"year": 1900, "month": 1, "date": 2, "hours": 9}]}},
                            "y": {"field": "v", "type": "quantitative",
                              "scale": {"domain": [-8.25, 173.25], "nice": false, "zero": false},
                              "axis": {"values": [0, 25, 50, 75, 100, 125, 150], "title": "counts", "titleFontSize": 7, "titlePadding": 9, "labelFontSize": 8.5}}
                          }
                        },
                        {
                          "data": {"name": "phases", "format": {"parse": {"t": "date:'%d %H:%M:%S'"}}},
                          "mark": {"type": "rule", "color": "#f0606e", "strokeWidth": 2, "opacity": 0.85},
                          "encoding": {"x": {"field": "t", "type": "temporal", "title": null}}
                        },
                        {
                          "data": {"name": "notes", "format": {"parse": {"t": "date:'%d %H:%M:%S'"}}},
                          "mark": {"type": "text", "fontSize": 13, "color": "#222", "align": "center", "baseline": "middle", "lineBreak": "\n", "lineHeight": 15},
                          "encoding": {
                            "x": {"field": "t", "type": "temporal", "title": null},
                            "y": {"field": "v", "type": "quantitative",
                              "axis": {"values": [0, 25, 50, 75, 100, 125, 150], "title": "counts", "titleFontSize": 7, "titlePadding": 9, "labelFontSize": 8.5}},
                            "text": {"field": "label"}
                          }
                        }
                      ]
                    }
                  ]
                }
              ]
            },
            {
              "spacing": 14,
              "resolve": {"legend": {"color": "independent"}},
              "hconcat": [
                {"width": 0.01, "height": 630, "view": {"stroke": "#333", "strokeWidth": 1.5}, "data": {"name": "blank"}, "mark": "point"},
                {
                  "spacing": 9,
                  "resolve": {"legend": {"color": "independent"}},
                  "hconcat": [
                    {
                      "spacing": 15,
                      "resolve": {"legend": {"color": "independent"}},
                      "vconcat": [
                        {"width": 654, "height": 42, "view": {"stroke": null}, "data": {"name": "blank"}, "mark": "point"},
                        {
                          "width": 654,
                          "height": 173,
                          "title": {"text": "Electrodermal Activity (EDA) signal", "fontSize": 13, "subtitle": "EDA data from Empatica wristband", "subtitleFontSize": 12, "subtitlePadding": 25, "offset": 2, "frame": "group"},
                          "data": {"name": "eda", "format": {"parse": {"t": "date:'%d %H:%M:%S'"}}},
                          "mark": {"type": "line", "color": "#1f77b4", "strokeWidth": 1.5},
                          "encoding": {
                            "x": {"field": "t", "type": "temporal",
                              "scale": {"domain": [{"year": 1900, "month": 1, "date": 1, "hours": 9, "minutes": 41}, {"year": 1900, "month": 1, "date": 1, "hours": 10, "minutes": 18, "seconds": 49}], "nice": false},
                              "axis": {"title": null, "labels": false,
                                "values": [{"year": 1900, "month": 1, "date": 1, "hours": 9, "minutes": 45}, {"year": 1900, "month": 1, "date": 1, "hours": 9, "minutes": 50}, {"year": 1900, "month": 1, "date": 1, "hours": 9, "minutes": 55}, {"year": 1900, "month": 1, "date": 1, "hours": 10, "minutes": 0}, {"year": 1900, "month": 1, "date": 1, "hours": 10, "minutes": 5}, {"year": 1900, "month": 1, "date": 1, "hours": 10, "minutes": 10}, {"year": 1900, "month": 1, "date": 1, "hours": 10, "minutes": 15}]}},
                            "y": {"field": "v", "type": "quantitative",
                              "scale": {"domain": [0.3, 3.39], "nice": false, "zero": false},
                              "axis": {"values": [0.5, 1, 1.5, 2, 2.5, 3], "format": ".1f", "title": "µS", "titleFontSize": 7, "titlePadding": 7, "labelFontSize": 7}}
                          }
                        },
                        {
                          "width": 654,
                          "height": 174,
                          "title": {"text": "Separation of tonic and phasic signals of EDA", "fontSize": 11.5, "offset": 4, "frame": "group"},
                          "data": {"name": "separation", "format": {"parse": {"t": "date:'%d %H:%M:%S'"}}},
                          "mark": {"type": "line", "strokeWidth": 1.5, "interpolate": "monotone"},
                          "encoding": {
                            "x": {"field": "t", "type": "temporal",
                              "scale": {"domain": [{"year": 1900, "month": 1, "date": 1, "hours": 9, "minutes": 41}, {"year": 1900, "month": 1, "date": 1, "hours": 10, "minutes": 18, "seconds": 49}], "nice": false},
                              "axis": {"title": null, "format": "%H:%M", "labelFontSize": 7,
                                "values": [{"year": 1900, "month": 1, "date": 1, "hours": 9, "minutes": 45}, {"year": 1900, "month": 1, "date": 1, "hours": 9, "minutes": 50}, {"year": 1900, "month": 1, "date": 1, "hours": 9, "minutes": 55}, {"year": 1900, "month": 1, "date": 1, "hours": 10, "minutes": 0}, {"year": 1900, "month": 1, "date": 1, "hours": 10, "minutes": 5}, {"year": 1900, "month": 1, "date": 1, "hours": 10, "minutes": 10}, {"year": 1900, "month": 1, "date": 1, "hours": 10, "minutes": 15}]}},
                            "y": {"field": "v", "type": "quantitative",
                              "scale": {"domain": [-0.117, 2.45], "nice": false, "zero": false},
                              "axis": {"values": [0, 0.5, 1, 1.5, 2], "format": ".1f", "title": "uS", "titleFontSize": 7, "titlePadding": 7, "labelFontSize": 7}},
                            "color": {"field": "s", "type": "nominal",
                              "scale": {"domain": ["tonic_mean", "phasic_mean"], "range": ["#1f77b4", "#ff7f0e"]},
                              "legend": {"title": null, "orient": "top-right", "offset": 5, "symbolType": "stroke", "symbolStrokeWidth": 1.5, "symbolSize": 120, "labelFontSize": 7, "labelColor": "#444", "strokeColor": "#ccc", "fillColor": "white", "padding": 5, "cornerRadius": 2, "rowPadding": 3}}
                          }
                        }
                      ]
                    },
                    {"width": 0.01, "height": 630, "view": {"stroke": "#333", "strokeWidth": 1.5}, "data": {"name": "blank"}, "mark": "point"}
                  ]
                }
              ]
            }
          ]
        }
      ]
    }
  ]
}
